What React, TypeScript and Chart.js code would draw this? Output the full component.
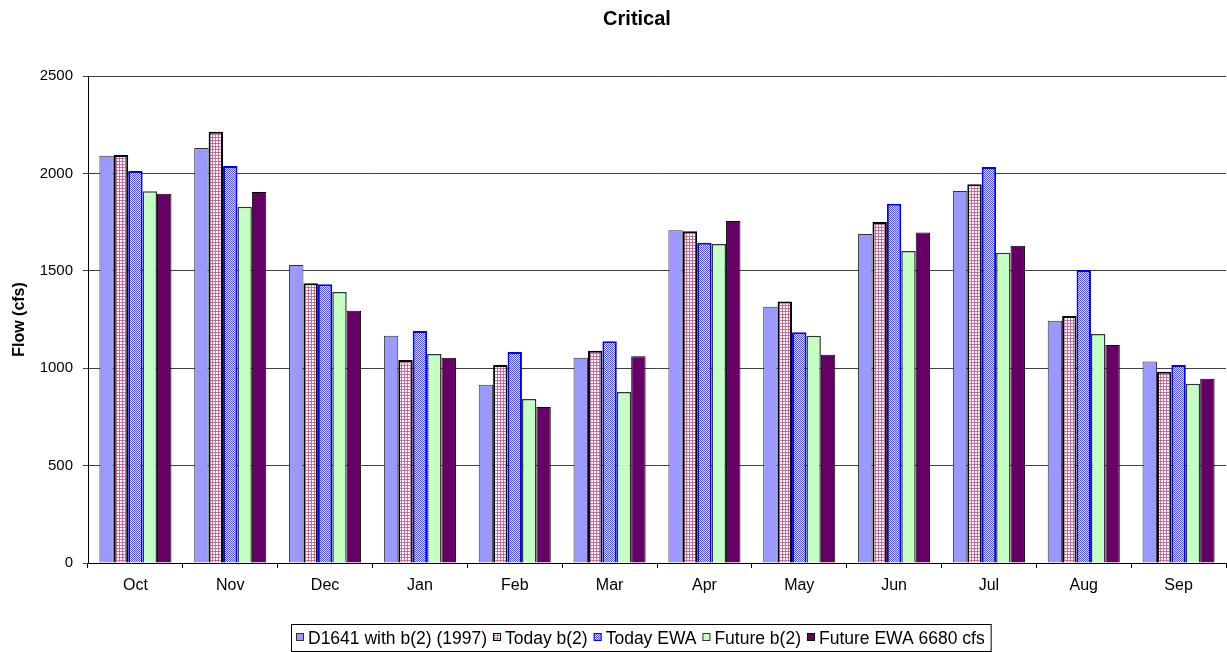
import React, { useEffect, useRef } from "react";
import { Chart, registerables } from "chart.js";

Chart.register(...registerables);

const TITLE = "Critical";
const Y_TITLE = "Flow (cfs)";
const MONTHS = ["Oct", "Nov", "Dec", "Jan", "Feb", "Mar", "Apr", "May", "Jun", "Jul", "Aug", "Sep"];
const SERIES_NAMES = ["D1641 with b(2) (1997)", "Today b(2)", "Today EWA", "Future b(2)", "Future EWA 6680 cfs"];
const D1641 = [2090, 2130, 1530, 1167, 915, 1054, 1708, 1316, 1689, 1910, 1244, 1034];
const TODAY_B2 = [2095, 2214, 1436, 1042, 1016, 1090, 1703, 1343, 1750, 1944, 1268, 982];
const TODAY_EWA = [2012, 2038, 1431, 1191, 1083, 1138, 1644, 1184, 1844, 2033, 1504, 1016];
const FUTURE_B2 = [1909, 1829, 1391, 1073, 842, 878, 1638, 1167, 1602, 1593, 1176, 920];
const FUTURE_EWA = [1896, 1904, 1295, 1054, 801, 1061, 1756, 1069, 1697, 1629, 1119, 946];
const Y_MIN = 0;
const Y_MAX = 2500;
const Y_STEP = 500;

const FONT = "'Liberation Sans', Arial, sans-serif";

function makePattern(cells: string[][]): CanvasPattern | string {
  const c = document.createElement("canvas");
  c.width = cells[0].length;
  c.height = cells.length;
  const g = c.getContext("2d");
  if (!g) return cells[0][0];
  cells.forEach((row, y) =>
    row.forEach((col, x) => {
      g.fillStyle = col;
      g.fillRect(x, y, 1, 1);
    })
  );
  const p = g.createPattern(c, "repeat");
  return p || cells[0][0];
}

export default function App() {
  const ref = useRef<HTMLCanvasElement | null>(null);

  useEffect(() => {
    document.body.style.margin = "0";
    const canvas = ref.current;
    if (!canvas) return;

    const pink = makePattern([
      ["#ffffff", "#ffffff", "#d070a0"],
      ["#ffffff", "#ffffff", "#d070a0"],
      ["#d070a0", "#d070a0", "#c45c94"],
    ]);
    const blue = makePattern([
      ["#5050f0", "#e0e0ff"],
      ["#e0e0ff", "#5050f0"],
    ]);

    const styles = [
      { bg: "#9999ff", border: "#333333", bw: 1 },
      { bg: pink, border: "#000000", bw: 2 },
      { bg: blue, border: "#0000ff", bw: 2 },
      { bg: "#c4ffc4", border: "#333333", bw: 1.5 },
      { bg: "#660066", border: "#000000", bw: 1 },
    ];
    const values = [D1641, TODAY_B2, TODAY_EWA, FUTURE_B2, FUTURE_EWA];

    const datasets = values.map((v, i) => ({
      label: SERIES_NAMES[i],
      data: v,
      backgroundColor: styles[i].bg as any,
      borderColor: styles[i].border,
      borderWidth: styles[i].bw,
      categoryPercentage: 0.76,
      barPercentage: 1,
    }));

    const titlePlugin = {
      id: "customTitle",
      afterDraw(chart: any) {
        const ctx = chart.ctx;
        ctx.save();
        ctx.fillStyle = "#000";
        ctx.font = `bold 20px ${FONT}`;
        ctx.textAlign = "center";
        ctx.textBaseline = "alphabetic";
        ctx.fillText(TITLE, 637, 25);
        ctx.restore();
      },
    };

    const legendPlugin = {
      id: "boxedLegend",
      afterDraw(chart: any) {
        const ctx = chart.ctx;
        ctx.save();
        const box = 8;
        const gapText = 4;
        const gapItem = 6;
        const left = 296;
        const targetRight = 985;
        ctx.font = `16px ${FONT}`;
        const baseW = SERIES_NAMES.map((n) => ctx.measureText(n).width).reduce((a, b) => a + b, 0);
        const fixed = SERIES_NAMES.length * (box + gapText) + (SERIES_NAMES.length - 1) * gapItem;
        const size = Math.min(18, Math.max(14, (16 * (targetRight - left - fixed)) / baseW));
        ctx.font = `${size.toFixed(2)}px ${FONT}`;
        const widths = SERIES_NAMES.map((n) => ctx.measureText(n).width);
        const total = widths.reduce((a, b) => a + b, 0) + fixed;
        const top = 624;
        const bottom = 651;
        ctx.strokeStyle = "#000";
        ctx.lineWidth = 1;
        ctx.strokeRect(left - 4.5, top + 0.5, total + 11, bottom - top);
        ctx.textBaseline = "alphabetic";
        ctx.textAlign = "left";
        let x = left;
        SERIES_NAMES.forEach((name, i) => {
          const ds = chart.data.datasets[i];
          ctx.fillStyle = ds.backgroundColor;
          ctx.fillRect(x, 633, box, box);
          ctx.strokeStyle = ds.borderColor;
          ctx.lineWidth = 1;
          ctx.strokeRect(x + 0.5, 633.5, box - 1, box - 1);
          ctx.fillStyle = "#000";
          ctx.fillText(name, x + box + gapText, 643.5);
          x += box + gapText + widths[i] + gapItem;
        });
        ctx.restore();
      },
    };

    const chart = new Chart(canvas, {
      type: "bar",
      data: { labels: MONTHS, datasets },
      options: {
        responsive: false,
        animation: false,
        devicePixelRatio: 1,
        layout: { padding: { top: 76, right: 1, bottom: 0, left: 0 } },
        plugins: {
          legend: { display: false },
          title: { display: false },
          tooltip: { enabled: false },
        },
        scales: {
          x: {
            grid: {
              display: true,
              drawOnChartArea: false,
              drawTicks: true,
              tickLength: 5,
              color: "#000",
              offset: true,
            },
            border: { display: true, color: "#000", width: 1 },
            ticks: { color: "#000", font: { family: FONT, size: 16 }, padding: 8 },
            afterFit: (s: any) => {
              s.height = 89;
            },
          },
          y: {
            min: Y_MIN,
            max: Y_MAX,
            ticks: {
              stepSize: Y_STEP,
              color: "#000",
              font: { family: FONT, size: 15 },
              padding: 10,
              callback: (v: any) => String(v),
            },
            grid: { color: "#404040", tickLength: 5, drawTicks: true },
            border: { display: true, color: "#000", width: 1 },
            title: {
              display: true,
              text: Y_TITLE,
              color: "#000",
              font: { family: FONT, size: 16, weight: "bold" },
              padding: { top: 10, bottom: 0 },
            },
            afterFit: (s: any) => {
              s.width = 88;
            },
          },
        },
      } as any,
      plugins: [titlePlugin, legendPlugin],
    });

    return () => chart.destroy();
  }, []);

  return (
    <div style={{ width: 1227, height: 652, background: "#fff" }}>
      <canvas ref={ref} width={1227} height={652} style={{ display: "block" }} />
    </div>
  );
}
